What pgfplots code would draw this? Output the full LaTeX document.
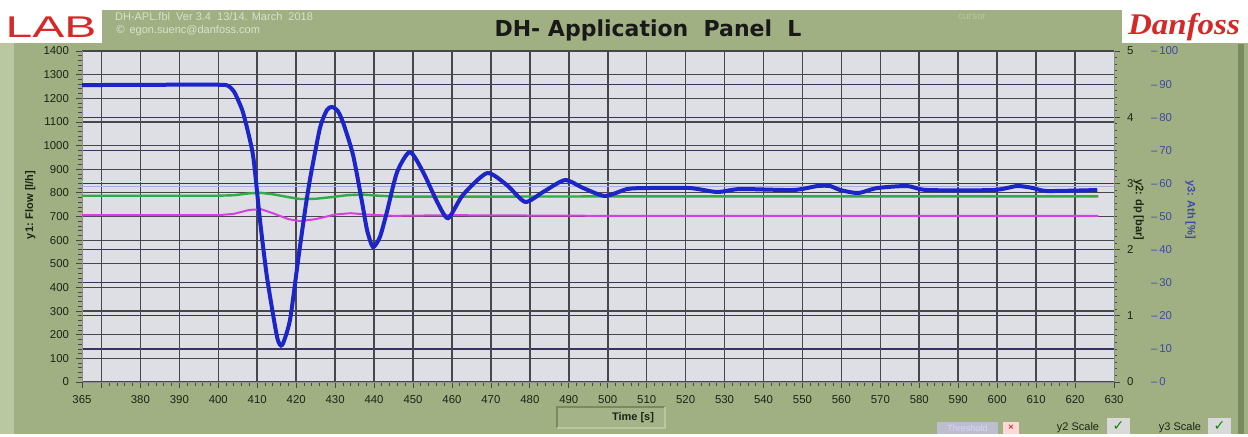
\documentclass[border=0pt]{standalone}
\usepackage{fontspec}
\setmainfont{Liberation Sans}
\newfontfamily\titlefont{DejaVu Sans}
\newfontfamily\logofont{Liberation Serif}
\newfontfamily\symfont{DejaVu Sans}
\usepackage{pgfplots}
\usepackage{pgfplotstable}
\pgfplotsset{compat=1.18}

\definecolor{panel}{RGB}{160,176,130}
\definecolor{panellight}{RGB}{186,200,162}
\definecolor{paneldark}{RGB}{120,138,96}
\definecolor{plotbg}{RGB}{222,223,229}
\definecolor{gridc}{RGB}{70,70,76}
\definecolor{gridb}{RGB}{58,52,92}
\definecolor{cblue}{RGB}{28,38,200}
\definecolor{cgreen}{RGB}{46,172,70}
\definecolor{cmag}{RGB}{214,64,224}
\definecolor{ythree}{RGB}{64,72,170}
\definecolor{labred}{RGB}{214,40,40}
\definecolor{txt}{RGB}{28,36,20}

% y3: blue, [%]
\pgfplotstableread{
t v
365 89.7
385 89.8
400.5 89.8
402.6 89.4
404.0 87.8
405.3 84.6
406.5 80.8
408.9 68.6
410.7 48.9
412.5 31.7
415.1 13.6
416.4 11.2
418.4 18.7
420.5 36.9
422.3 52.0
423.6 61.6
426.1 76.7
427.9 82.2
429.2 83.1
430.6 82.0
432.0 78.5
434.6 68.6
436.9 54.4
438.2 45.9
439.7 40.8
441.5 43.8
443.3 51.4
445.9 63.4
449.2 69.5
452.6 63.4
456.2 54.4
459.0 49.5
462.8 56.5
469.0 63.1
474.1 59.5
478.8 54.4
483.4 57.4
489.0 61.0
493.7 58.6
499.3 56.2
505.0 58.3
510.1 58.6
521.1 58.6
528.1 57.4
534.0 58.3
547.6 58.0
553.8 59.2
557.1 59.2
559.7 58.0
564.3 57.1
569.2 58.6
576.9 59.2
582.0 58.0
599.0 58.0
605.1 59.2
609.2 58.6
612.8 57.7
625.7 58.0
}\bluedata

% y1: green, flow [l/h]
\pgfplotstableread{
t v
365 788
400 788
404 790
408 798
411 800
414 794
418 782
421 774
425 775
429 782
433 790
437 793
441 788
446 784
460 784
500 785
560 785
626 785
}\greendata

% y2: magenta, dp [bar]
\pgfplotstableread{
t v
365 2.52
400 2.52
404 2.54
408 2.60
411 2.61
414 2.55
418 2.46
421 2.43
425 2.46
430 2.53
434 2.55
438 2.53
445 2.51
460 2.52
500 2.51
626 2.51
}\magdata

\pgfplotsset{
  panelaxis/.style={
    at={(41pt,27pt)}, anchor=south west,
    scale only axis, width=516pt, height=165.5pt,
    xmin=365, xmax=630, clip=true,
    tick label style={font=\fontsize{5.7}{7}\selectfont, text=txt},
    /pgf/number format/assume math mode=true,
    /pgf/number format/set thousands separator={},
  },
}
\tikzset{ylab/.style={font=\bfseries\fontsize{5.5}{6}\selectfont, text=txt, anchor=center}}

\begin{document}
\begin{tikzpicture}
\path[use as bounding box] (0pt,0pt) rectangle (624pt,218pt);
% panel
\fill[white] (0pt,0pt) rectangle (624pt,218pt);
\fill[panel] (0pt,1pt) rectangle (624pt,213pt);
\fill[panellight] (0pt,1pt) rectangle (7pt,213pt);
\fill[paneldark] (619pt,1pt) rectangle (622pt,196pt);
\fill[plotbg] (41pt,27pt) rectangle (557pt,192.5pt);

% logos and title
\fill[white] (0pt,196.5pt) rectangle (51pt,213pt);
\node[text=labred, xscale=1.6, inner sep=0pt, font=\fontsize{15}{16}\selectfont] at (25.5pt,204.5pt) {LAB};
\fill[white] (561pt,196.5pt) rectangle (624pt,213pt);
\node[text=labred, inner sep=0pt, font=\logofont\bfseries\itshape\fontsize{15}{16}\selectfont, xscale=1.1] at (592pt,204.5pt) {Danfoss};
\node[font=\titlefont\bfseries\fontsize{11}{12}\selectfont, text=black!90] at (324pt,203pt) {DH- Application\ \ Panel\ \ L};
\node[anchor=west, text=panellight!55!white, font=\fontsize{5.5}{6}\selectfont] at (54pt,209.5pt) {DH-APL.fbl\ \ Ver 3.4\ \ 13/14. March\ \ 2018};
\node[anchor=west, text=panellight!55!white, font=\fontsize{5.5}{6}\selectfont] at (54pt,202.5pt) {\symfont ©\ \rmfamily egon.suenc@danfoss.com};
\node[text=panel!75!white, font=\fontsize{5}{6}\selectfont] at (486pt,209.5pt) {cursor};

% y3 scale with its grid
\begin{axis}[panelaxis,
  ymin=0, ymax=100,
  axis x line=none, axis y line*=right,
  y axis line style={draw=none},
  ytick={0,10,...,100},
  major tick length=0pt,
  ymajorgrids, major grid style={gridb, line width=0.6pt},
  yticklabel={\textendash\,\pgfmathprintnumber{\tick}},
  yticklabel style={xshift=15pt, text=ythree},
  ylabel={y3: Ath [\%]},
  every axis y label/.style={ylab, text=ythree, at={(axis description cs:1.074,0.52)}, rotate=-90},
]
\end{axis}

% y1 axis, time axis and grid
\begin{axis}[panelaxis,
  ymin=0, ymax=1400,
  axis x line*=bottom, axis y line*=left,
  xtick={370,380,...,620},
  xticklabels={,380,390,400,410,420,430,440,450,460,470,480,490,500,510,520,530,540,550,560,570,580,590,600,610,620},
  extra x ticks={365,630}, extra x tick labels={365,630},
  extra x tick style={grid=none},
  minor x tick num=4,
  ytick={0,100,...,1400}, minor y tick num=4,
  xmajorgrids, ymajorgrids,
  x grid style={gridc, line width=0.8pt},
  y grid style={gridc, line width=0.6pt},
  tick align=outside, major tick length=3pt, minor tick length=2pt,
  tick style={gridc, line width=0.4pt},
  axis line style={gridc!60, line width=0.5pt},
  ylabel={y1: Flow [l/h]},
  every axis y label/.style={ylab, at={(axis description cs:-0.05,0.535)}, rotate=90},
]
\addplot[draw=cyan!30!blue!35!white, line width=0.7pt] coordinates {(365,828) (630,828)};
\addplot[draw=pink!70!white, line width=0.5pt] coordinates {(365,850) (630,850)};
\addplot[cgreen, line width=1.2pt] table[x=t, y=v] {\greendata};
\end{axis}

% y2 axis
\begin{axis}[panelaxis,
  ymin=0, ymax=5,
  axis x line=none, axis y line*=right,
  ytick={0,...,5}, minor y tick num=9,
  tick align=outside, major tick length=3pt, minor tick length=1.5pt,
  tick style={gridc, line width=0.4pt},
  axis line style={gridc!60, line width=0.5pt},
  ylabel={y2: dp [bar]},
  every axis y label/.style={ylab, at={(axis description cs:1.024,0.52)}, rotate=-90},
]
\addplot[cmag, line width=1pt] table[x=t, y=v] {\magdata};
\end{axis}

% y3 curve
\begin{axis}[panelaxis, ymin=0, ymax=100, hide axis]
\addplot[cblue, line width=2pt, smooth, tension=0.4] table[x=t, y=v] {\bluedata};
\end{axis}

% time label box
\fill[panel!95!white] (278.5pt,4pt) rectangle (332.5pt,14.5pt);
\draw[paneldark, line width=0.6pt] (278.5pt,4pt) -- (278.5pt,14.5pt) -- (332.5pt,14.5pt);
\draw[panellight, line width=0.6pt] (278.5pt,4pt) -- (332.5pt,4pt) -- (332.5pt,14.5pt);
\node[font=\bfseries\fontsize{5.5}{6}\selectfont, text=txt] at (316.5pt,9.3pt) {Time [s]};

% bottom right controls
\fill[blue!15!gray!45!white] (468.5pt,1pt) rectangle (499pt,7pt);
\node[font=\fontsize{4.5}{5}\selectfont, text=white!85!blue] at (483.7pt,4pt) {Threshold};
\fill[red!15!white] (501.5pt,1pt) rectangle (509.5pt,7pt);
\node[font=\fontsize{5}{5}\selectfont, text=red!80!black] at (505.5pt,4pt) {×};
\node[font=\fontsize{5.5}{6}\selectfont, text=txt] at (539pt,4.2pt) {y2 Scale};
\fill[gray!30!white] (553.5pt,1pt) rectangle (565pt,9pt);
\node[font=\symfont\bfseries\fontsize{7}{7}\selectfont, text=green!55!black] at (559.3pt,5pt) {✓};
\node[font=\fontsize{5.5}{6}\selectfont, text=txt] at (590pt,4.2pt) {y3 Scale};
\fill[gray!30!white] (604pt,1pt) rectangle (615.5pt,9pt);
\node[font=\symfont\bfseries\fontsize{7}{7}\selectfont, text=green!55!black] at (609.8pt,5pt) {✓};
\end{tikzpicture}
\end{document}
